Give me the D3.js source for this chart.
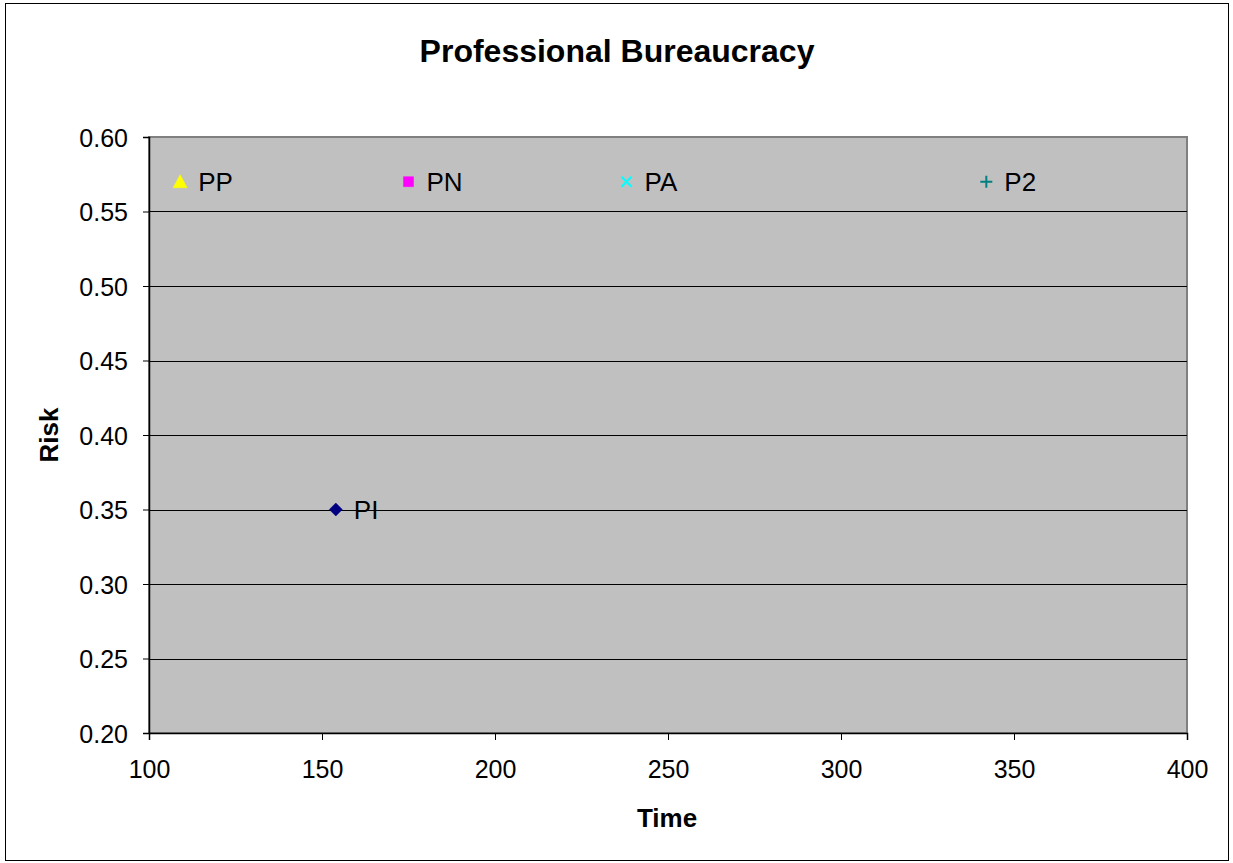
<!DOCTYPE html>
<html>
<head>
<meta charset="utf-8">
<script src="https://cdn.jsdelivr.net/npm/d3@7"></script>
<style>
  html, body { margin: 0; padding: 0; background: #fff; }
  svg { display: block; font-family: "Liberation Sans", Arial, sans-serif; }
</style>
</head>
<body>
<svg id="chart" width="1233" height="863"></svg>
<script>
// Series: one labelled point each
const names  = ["PP", "PN", "PA", "P2", "PI"];
const times  = [109, 175, 238, 342, 154];
const risks  = [0.57, 0.57, 0.57, 0.57, 0.35];
const colors = ["#FFFF00", "#FF00FF", "#00FFFF", "#008080", "#000080"];
const shapes = ["triangle", "square", "cross", "plus", "diamond"];

const xTicks = [100, 150, 200, 250, 300, 350, 400];
const yTicks = [0.20, 0.25, 0.30, 0.35, 0.40, 0.45, 0.50, 0.55, 0.60];

const svg = d3.select("#chart");
const plot = { left: 149, top: 137, right: 1187, bottom: 733 };

const x = d3.scaleLinear().domain([100, 400]).range([plot.left, plot.right]);
const y = d3.scaleLinear().domain([0.20, 0.60]).range([plot.bottom, plot.top]);

// Outer chart frame
svg.append("rect")
  .attr("x", 5.5).attr("y", 3.5).attr("width", 1223).attr("height", 857)
  .attr("fill", "#fff").attr("stroke", "#000").attr("stroke-width", 1);

// Plot area
svg.append("rect")
  .attr("x", plot.left).attr("y", plot.top)
  .attr("width", plot.right - plot.left).attr("height", plot.bottom - plot.top)
  .attr("fill", "#C0C0C0").attr("stroke", "#808080").attr("stroke-width", 2);

// Horizontal gridlines
svg.append("g")
  .selectAll("line")
  .data(yTicks.filter(t => t > 0.2 && t < 0.6))
  .join("line")
  .attr("x1", plot.left).attr("x2", plot.right)
  .attr("y1", d => Math.round(y(d)) + 0.5).attr("y2", d => Math.round(y(d)) + 0.5)
  .attr("stroke", "#000").attr("stroke-width", 1);

// Axes
const xAxis = svg.append("g")
  .attr("transform", `translate(0,${plot.bottom})`)
  .call(d3.axisBottom(x).tickValues(xTicks).tickFormat(d3.format("d")).tickSize(7).tickPadding(20));
const yAxis = svg.append("g")
  .attr("transform", `translate(${plot.left},0)`)
  .call(d3.axisLeft(y).tickValues(yTicks).tickFormat(d3.format(".2f")).tickSize(6).tickPadding(15));

[xAxis, yAxis].forEach(g => {
  g.select(".domain").attr("stroke", "#000").attr("stroke-width", 1.5);
  g.selectAll(".tick line").attr("stroke", "#000");
  g.selectAll("text").attr("font-size", 25).attr("fill", "#000")
    .attr("font-family", "'Liberation Sans', Arial, sans-serif");
});
yAxis.selectAll("text").attr("dy", "0.36em");

// Title and axis titles
svg.append("text")
  .attr("x", 617).attr("y", 62).attr("text-anchor", "middle")
  .attr("font-size", 32).attr("font-weight", "bold")
  .text("Professional Bureaucracy");
svg.append("text")
  .attr("x", 667).attr("y", 827).attr("text-anchor", "middle")
  .attr("font-size", 26).attr("font-weight", "bold")
  .text("Time");
svg.append("text")
  .attr("transform", "translate(58,435) rotate(-90)").attr("text-anchor", "middle")
  .attr("font-size", 26).attr("font-weight", "bold")
  .text("Risk");

// Marker shapes
function markerPath(kind) {
  switch (kind) {
    case "triangle": return "M0,-7 L7,6 L-7,6 Z";
    case "square":   return "M-5,-5 H5 V5 H-5 Z";
    case "diamond":  return "M0,-6.5 L6.5,0 L0,6.5 L-6.5,0 Z";
    case "cross":    return "M-5,-5 L5,5 M5,-5 L-5,5";
    case "plus":     return "M-6,0 H6 M0,-6 V6";
  }
}

const pts = svg.append("g").selectAll("g")
  .data(names.map((n, i) => ({ name: n, t: times[i], r: risks[i], color: colors[i], shape: shapes[i] })))
  .join("g")
  .attr("transform", d => `translate(${x(d.t)},${y(d.r)})`);

pts.append("path")
  .attr("d", d => markerPath(d.shape))
  .attr("fill", d => (d.shape === "cross" || d.shape === "plus") ? "none" : d.color)
  .attr("stroke", d => d.color)
  .attr("stroke-width", d => (d.shape === "cross" || d.shape === "plus") ? 2 : 0.5);

pts.append("text")
  .attr("x", 18).attr("dy", "0.36em")
  .attr("font-size", 26)
  .text(d => d.name);
</script>
</body>
</html>
